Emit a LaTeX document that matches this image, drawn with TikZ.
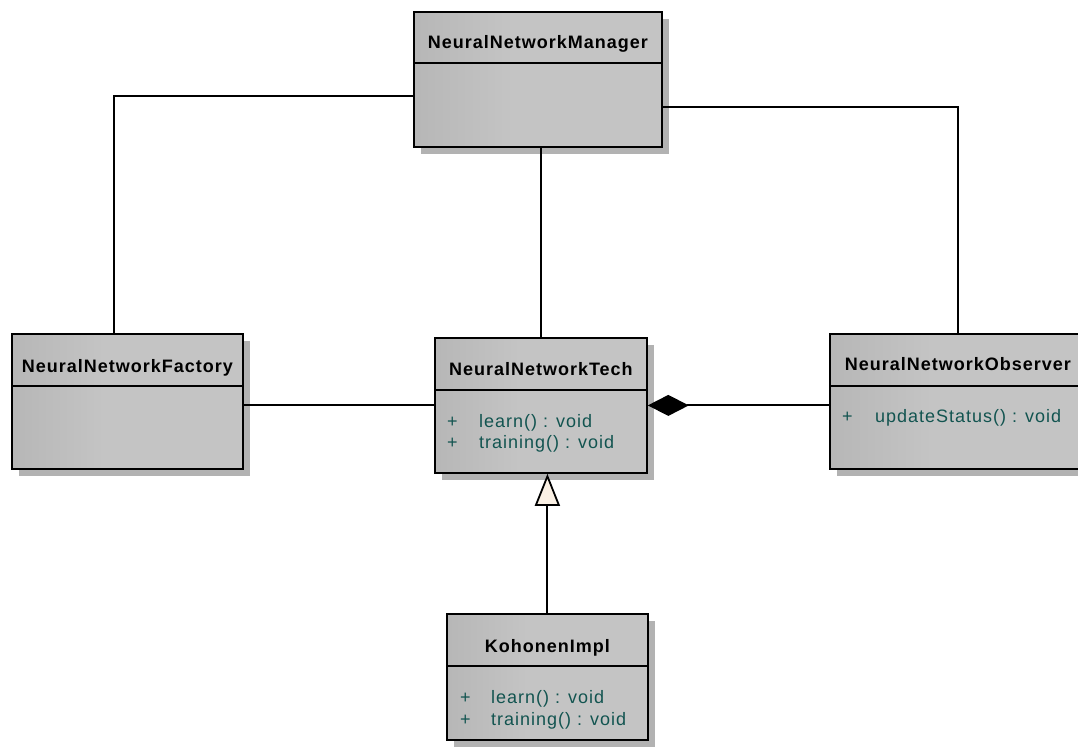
\documentclass[tikz,border=0pt]{standalone}
\usepackage{fontspec}
\setmainfont{Liberation Sans}
\newfontfamily\umltitle[LetterSpace=5.5]{Liberation Sans Bold}
\newfontfamily\umlops[LetterSpace=5.5]{Liberation Sans}
\usetikzlibrary{arrows.meta,shadows}

\definecolor{boxdark}{RGB}{166,166,166}
\definecolor{boxlight}{RGB}{196,196,196}
\definecolor{shadowgray}{RGB}{178,178,178}
\definecolor{optext}{RGB}{18,84,80}
\definecolor{cream}{RGB}{250,240,228}
\pgfdeclarehorizontalshading{umlfill}{100bp}{color(0bp)=(boxdark); color(45bp)=(boxlight); color(100bp)=(boxlight)}

\tikzset{
  umlclass/.style={rectangle, anchor=north west, inner sep=0pt, draw=black,
    line width=1.8pt, shading=umlfill,
    general shadow={fill=shadowgray, shadow xshift=7pt, shadow yshift=-7pt}},
  divider/.style={line width=1.8pt},
  classname/.style={anchor=base, inner sep=0pt, font=\umltitle\fontsize{18}{21}\selectfont},
  opline/.style={anchor=base west, inner sep=0pt, text=optext, font=\umlops\fontsize{18}{21}\selectfont},
  link/.style={line width=1.9pt, draw=black},
}

\begin{document}
\begin{tikzpicture}[x=1pt, y=-1pt]
\clip (0,0) rectangle (1078,750);
\fill[white] (0,0) rectangle (1078,750);

% class boxes
\node[umlclass, minimum width=248pt, minimum height=135pt] (mgr) at (413,11) {};
\node[umlclass, minimum width=231pt, minimum height=135pt] (fac) at (11,333) {};
\node[umlclass, minimum width=212pt, minimum height=135pt] (tech) at (434,337) {};
\node[umlclass, minimum width=256pt, minimum height=135pt] (obs) at (829,333) {};
\node[umlclass, minimum width=201pt, minimum height=126pt] (koh) at (446,613) {};

% header compartments
\foreach \c/\h in {mgr/52, fac/53, tech/53, obs/53, koh/53}{
  \draw[divider] ([yshift=-\h pt]\c.north west) -- ([yshift=-\h pt]\c.north east);
}

% class names
\node[classname] (mgrname) at ([yshift=-37pt]mgr.north) {NeuralNetworkManager};
\node[classname] (facname) at ([yshift=-39pt]fac.north) {NeuralNetworkFactory};
\node[classname] (techname) at ([yshift=-38pt]tech.north) {NeuralNetworkTech};
\node[classname] (obsname) at ([yshift=-37pt]obs.north) {NeuralNetworkObserver};
\node[classname] (kohname) at ([yshift=-39pt]koh.north) {KohonenImpl};

% operations
\node[opline] (techp1) at ([xshift=13pt,yshift=-90pt]tech.north west) {+};
\node[opline] (techo1) at ([xshift=45pt,yshift=-90pt]tech.north west) {learn() : void};
\node[opline] (techp2) at ([xshift=13pt,yshift=-111pt]tech.north west) {+};
\node[opline] (techo2) at ([xshift=45pt,yshift=-111pt]tech.north west) {training() : void};

\node[opline] (obsp1) at ([xshift=13pt,yshift=-89pt]obs.north west) {+};
\node[opline] (obso1) at ([xshift=46pt,yshift=-89pt]obs.north west) {updateStatus() : void};

\node[opline] (kohp1) at ([xshift=14pt,yshift=-90pt]koh.north west) {+};
\node[opline] (koho1) at ([xshift=45pt,yshift=-90pt]koh.north west) {learn() : void};
\node[opline] (kohp2) at ([xshift=14pt,yshift=-112pt]koh.north west) {+};
\node[opline] (koho2) at ([xshift=45pt,yshift=-112pt]koh.north west) {training() : void};

% associations
\draw[link] ([yshift=-16.5pt]mgr.west) -| ([xshift=-13.5pt]fac.north);
\draw[link] ([yshift=-27.5pt]mgr.east) -| (obs.north);
\draw[link] (mgr.south -| tech.north) -- (tech.north);
\draw[link] (fac.east |- tech.west) -- (tech.west);

% composition
\draw[link, -{Diamond[length=41pt, width=21pt, fill=black]}] (obs.west |- tech.east) -- (tech.east);

% generalization
\draw[link, -{Triangle[open, length=32pt, width=25pt, fill=cream, line width=1.8pt]}]
  (koh.north) -- (koh.north |- tech.south);
\end{tikzpicture}
\end{document}
